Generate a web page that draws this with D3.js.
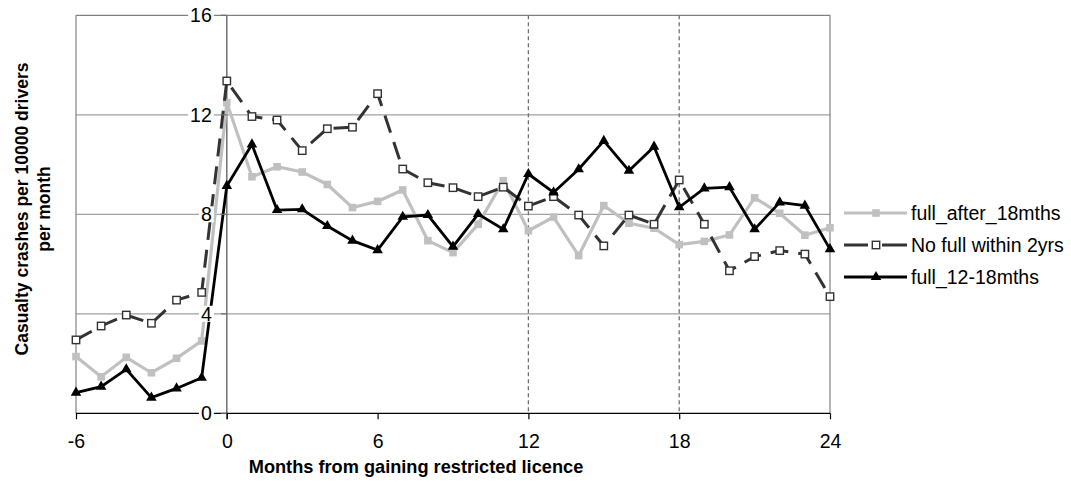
<!DOCTYPE html>
<html>
<head>
<meta charset="utf-8">
<script src="https://cdn.jsdelivr.net/npm/d3@7/dist/d3.min.js"></script>
<style>
  html, body { margin: 0; padding: 0; background: #fff; }
  svg { display: block; }
  text { font-family: "Liberation Sans", Arial, sans-serif; fill: #000; }
</style>
</head>
<body>
<svg id="chart" width="1071" height="488"></svg>
<script>
// ---- data ----
const months = [-6,-5,-4,-3,-2,-1,0,1,2,3,4,5,6,7,8,9,10,11,12,13,14,15,16,17,18,19,20,21,22,23,24];
const fullAfter18 = [2.28,1.47,2.25,1.63,2.21,2.91,12.49,9.51,9.91,9.70,9.20,8.27,8.52,8.98,6.94,6.46,7.60,9.35,7.34,7.89,6.34,8.35,7.64,7.44,6.78,6.91,7.17,8.66,8.04,7.16,7.46];
const noFull2yrs = [2.95,3.51,3.95,3.62,4.55,4.86,13.36,11.93,11.79,10.56,11.44,11.50,12.85,9.82,9.27,9.07,8.71,9.09,8.33,8.71,7.97,6.73,7.97,7.60,9.38,7.60,5.73,6.30,6.54,6.40,4.69];
const full12to18 = [0.83,1.07,1.77,0.63,1.00,1.43,9.14,10.81,8.17,8.20,7.53,6.94,6.56,7.90,7.97,6.70,8.01,7.40,9.62,8.88,9.81,10.95,9.75,10.72,8.28,9.04,9.09,7.40,8.48,8.35,6.60];
const seriesNames = ["full_after_18mths", "No full within 2yrs", "full_12-18mths"];
const xTicks = [-6, 0, 6, 12, 18, 24];
const yTicks = [0, 4, 8, 12, 16];
const refMonths = [12, 18];
const xTitle = "Months from gaining restricted licence";
const yTitleLines = ["Casualty crashes per 10000 drivers", "per month"];

// ---- layout ----
const svg = d3.select("#chart");
const L = 76, R = 830, T = 15.3, B = 413.3;
const x = d3.scaleLinear().domain([-6, 24]).range([L, R]);
const y = d3.scaleLinear().domain([0, 16]).range([B, T]);
const FONT = 19.5;

// gridlines
svg.append("g").selectAll("line").data(yTicks.filter(d => d > 0)).join("line")
  .attr("x1", L).attr("x2", R)
  .attr("y1", d => y(d)).attr("y2", d => y(d))
  .attr("stroke", d => d === 16 ? "#808080" : "#a0a0a0").attr("stroke-width", 1.2);

// plot borders left/right
svg.append("line").attr("x1", L).attr("x2", L).attr("y1", T).attr("y2", B).attr("stroke", "#808080").attr("stroke-width", 1.2);
svg.append("line").attr("x1", R).attr("x2", R).attr("y1", T).attr("y2", B).attr("stroke", "#808080").attr("stroke-width", 1.2);

// dashed reference lines
svg.append("g").selectAll("line").data(refMonths).join("line")
  .attr("x1", d => x(d)).attr("x2", d => x(d))
  .attr("y1", T).attr("y2", B)
  .attr("stroke", "#707070").attr("stroke-width", 1.3)
  .attr("stroke-dasharray", "4,3");

// vertical axis at x = 0
svg.append("line").attr("x1", x(0)).attr("x2", x(0)).attr("y1", T).attr("y2", B + 6)
  .attr("stroke", "#707070").attr("stroke-width", 1.5);

// x axis
const xAxis = d3.axisBottom(x).tickValues(xTicks).tickSize(6).tickPadding(15).tickFormat(d => String(d));
const gx = svg.append("g").attr("transform", `translate(0,${B})`).call(xAxis);
gx.select(".domain").attr("stroke", "#000").attr("stroke-width", 1.3).attr("d", `M${L},0H${R}`);
gx.selectAll(".tick line").attr("stroke", "#000").attr("stroke-width", 1.2);
gx.selectAll(".tick text").attr("font-size", FONT).attr("font-family", "Liberation Sans, Arial, sans-serif").attr("fill", "#000");

// series
const series = [
  { name: seriesNames[0], values: fullAfter18, color: "#c0c0c0", width: 3.2, dash: null, marker: "sqFilled" },
  { name: seriesNames[1], values: noFull2yrs, color: "#333333", width: 3, dash: "18,10", marker: "sqOpen" },
  { name: seriesNames[2], values: full12to18, color: "#000000", width: 2.8, dash: null, marker: "tri" }
];
const line = d3.line().x((d, i) => x(months[i])).y(d => y(d));

function drawMarker(g, cx, cy, s) {
  if (s.marker === "sqFilled") {
    g.append("rect").attr("x", cx - 3.8).attr("y", cy - 3.8).attr("width", 7.6).attr("height", 7.6).attr("fill", s.color);
  } else if (s.marker === "sqOpen") {
    g.append("rect").attr("x", cx - 3.7).attr("y", cy - 3.7).attr("width", 7.4).attr("height", 7.4)
      .attr("fill", "#fff").attr("stroke", "#333").attr("stroke-width", 1.4);
  } else {
    g.append("path").attr("transform", `translate(${cx},${cy})`)
      .attr("d", d3.symbol(d3.symbolTriangle, 48)()).attr("fill", "#000");
  }
}

series.forEach(s => {
  const g = svg.append("g");
  g.append("path").datum(s.values).attr("d", line).attr("fill", "none")
    .attr("stroke", s.color).attr("stroke-width", s.width)
    .attr("stroke-linejoin", "miter")
    .attr("stroke-dasharray", s.dash);
  s.values.forEach((v, i) => drawMarker(g, x(months[i]), y(v), s));
});

// y tick labels with white background (axis crosses at x = 0), drawn on top
const yl = svg.append("g");
yTicks.forEach(v => {
  yl.append("line").attr("x1", x(0) - 6).attr("x2", x(0)).attr("y1", y(v)).attr("y2", y(v)).attr("stroke", "#707070").attr("stroke-width", 1.2);
  const bgr = yl.append("rect").attr("fill", "#fff");
  const t = yl.append("text").attr("x", x(0) - 15).attr("y", y(v)).attr("dy", "0.36em")
    .attr("text-anchor", "end").attr("font-size", FONT).text(String(v));
  const bb = t.node().getBBox();
  bgr.attr("x", bb.x - 2).attr("y", y(v) - 8).attr("width", bb.width + 4).attr("height", 16);
});

// legend
const legY = [213, 245, 277];
series.forEach((s, i) => {
  const g = svg.append("g");
  const ly = legY[i];
  g.append("line").attr("x1", 844).attr("x2", 907).attr("y1", ly).attr("y2", ly)
    .attr("stroke", s.color).attr("stroke-width", s.width)
    .attr("stroke-dasharray", s.dash ? "24,14,25" : null);
  drawMarker(g, 876, ly, s);
  g.append("text").attr("x", 911).attr("y", ly).attr("dy", "0.36em").attr("font-size", FONT).text(s.name);
});

// axis titles
svg.append("text").attr("x", 416).attr("y", 473)
  .attr("text-anchor", "middle").attr("font-size", 18.2).attr("font-weight", "bold").text(xTitle);
const yt = svg.append("text").attr("transform", `translate(28,209) rotate(-90)`)
  .attr("text-anchor", "middle").attr("font-size", 17.5).attr("font-weight", "bold");
yTitleLines.forEach((t, i) => yt.append("tspan").attr("x", 0).attr("dy", i === 0 ? 0 : 21.5).text(t));
</script>
</body>
</html>
